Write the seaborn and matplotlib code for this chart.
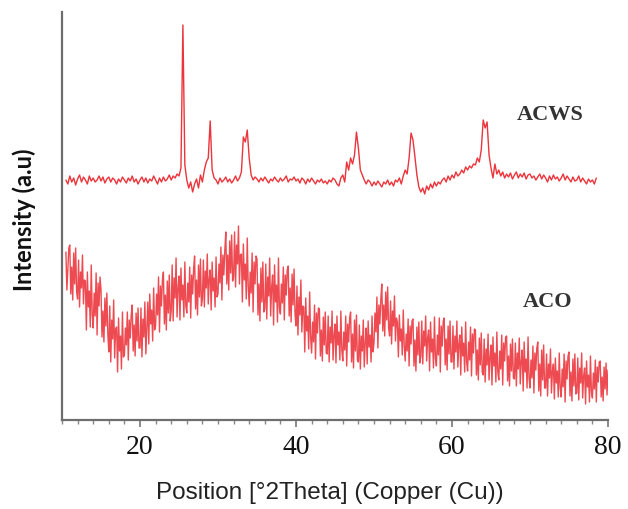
import numpy as np
import pandas as pd
import matplotlib
matplotlib.use("Agg")
import matplotlib.pyplot as plt
import seaborn as sns
from matplotlib.ticker import MultipleLocator

# ---- data (arbitrary intensity units, 2theta scan in degrees) ----
acws_step = 0.25
acws_start = 10.5
aco_step = 0.125
aco_start = 10.5

acws_intensity = [
    240, 236,
    244, 238, 242, 235,
    241, 245, 238, 243,
    240, 236, 244, 239,
    242, 238, 240, 244,
    239, 243, 237, 241,
    243, 238, 242, 240,
    236, 241, 238, 243,
    240, 237, 242, 239,
    244, 238, 241, 236,
    240, 243, 238, 242,
    237, 241, 239, 244,
    240, 236, 242, 238,
    243, 239, 241, 245,
    240, 244, 242, 246,
    244, 252, 395, 255,
    240, 232, 238, 228,
    236, 241, 232, 245,
    238, 250, 258, 262,
    299, 250, 242, 240,
    236, 242, 238, 240,
    243, 238, 241, 237,
    240, 244, 239, 242,
    248, 283, 278, 290,
    262, 245, 240, 243,
    241, 238, 242, 239,
    243, 240, 237, 241,
    239, 243, 240, 238,
    242, 239, 241, 244,
    238, 241, 240, 243,
    239, 241, 237, 242,
    240, 236, 241, 238,
    242, 239, 236, 240,
    238, 241, 237, 239,
    236, 240, 238, 242,
    240, 236, 234, 242,
    245, 238, 258, 250,
    262, 256, 265, 288,
    272, 250, 245, 240,
    236, 240, 238, 234,
    238, 235, 239, 236,
    233, 238, 236, 240,
    235, 238, 234, 240,
    238, 242, 236, 244,
    250, 246, 262, 287,
    280, 263, 245, 233,
    228, 232, 226, 234,
    230, 236, 232, 238,
    234, 238, 236, 240,
    242, 238, 244, 240,
    245, 242, 248, 244,
    246, 250, 247, 253,
    250, 254, 252, 256,
    255, 262, 258, 270,
    300, 292, 298, 265,
    252, 242, 256, 246,
    250, 244, 248, 242,
    246, 243, 247, 241,
    245, 248, 242, 246,
    243, 247, 241, 245,
    246, 242, 244, 240,
    243, 246, 241, 245,
    242, 238, 244, 240,
    245, 241, 243, 239,
    242, 246, 240, 244,
    241, 238, 243, 239,
    240, 244, 238, 242,
    239, 236, 241, 238,
    240, 236, 242,
]

aco_intensity = [
    168, 130, 150, 172,
    175, 126, 153, 120, 167, 136, 172, 128,
    121, 160, 113, 148, 132, 165, 116, 140,
    139, 90, 148, 113, 129, 93, 155, 106,
    92, 127, 104, 147, 85, 137, 114, 143,
    130, 83, 109, 78, 122, 94, 127, 86,
    68, 114, 58, 100, 81, 120, 62, 91,
    93, 48, 102, 69, 84, 51, 108, 63,
    65, 92, 75, 108, 60, 100, 82, 105,
    115, 69, 95, 64, 107, 79, 112, 72,
    72, 112, 63, 101, 83, 118, 66, 92,
    118, 76, 126, 96, 110, 79, 132, 90,
    94, 126, 105, 143, 88, 134, 114, 140,
    148, 96, 125, 90, 139, 107, 145, 99,
    109, 155, 99, 142, 122, 162, 103, 132,
    144, 100, 152, 120, 135, 103, 158, 114,
    107, 137, 118, 153, 102, 145, 126, 151,
    164, 111, 140, 105, 155, 123, 161, 114,
    121, 160, 113, 149, 132, 166, 116, 141,
    150, 110, 158, 129, 142, 113, 163, 123,
    126, 156, 137, 173, 120, 165, 145, 170,
    188, 136, 165, 130, 179, 147, 185, 139,
    143, 188, 133, 175, 156, 194, 136, 165,
    166, 118, 176, 140, 156, 121, 182, 134,
    114, 148, 127, 167, 108, 158, 136, 164,
    161, 105, 136, 99, 152, 118, 158, 108,
    111, 156, 101, 143, 124, 162, 104, 133,
    145, 95, 155, 118, 135, 98, 162, 112,
    106, 136, 117, 153, 100, 145, 125, 150,
    154, 104, 132, 98, 146, 115, 151, 106,
    94, 134, 85, 123, 105, 140, 88, 114,
    113, 68, 122, 89, 104, 71, 128, 83,
    67, 98, 78, 115, 61, 107, 87, 112,
    111, 64, 90, 59, 103, 75, 108, 67,
    66, 104, 58, 93, 77, 109, 60, 85,
    96, 57, 104, 75, 88, 60, 109, 70,
    59, 88, 70, 104, 54, 96, 78, 102,
    108, 58, 86, 52, 100, 69, 105, 60,
    58, 95, 51, 84, 69, 100, 53, 77,
    92, 56, 99, 73, 85, 58, 104, 68,
    77, 107, 88, 123, 72, 115, 96, 121,
    136, 89, 115, 84, 128, 100, 133, 92,
    84, 119, 76, 109, 94, 124, 79, 102,
    98, 63, 105, 79, 91, 65, 110, 75,
    59, 86, 69, 101, 54, 94, 76, 99,
    101, 54, 80, 49, 93, 65, 98, 57,
    64, 99, 56, 89, 74, 104, 59, 82,
    90, 49, 98, 68, 81, 52, 103, 62,
    54, 85, 65, 102, 48, 94, 74, 99,
    102, 55, 81, 50, 94, 66, 99, 58,
    58, 94, 51, 84, 68, 99, 53, 76,
    85, 45, 93, 64, 77, 48, 98, 58,
    49, 78, 60, 93, 44, 86, 67, 91,
    90, 45, 70, 40, 82, 55, 87, 48,
    45, 81, 38, 71, 55, 86, 40, 63,
    75, 35, 83, 54, 67, 38, 88, 48,
    40, 69, 51, 85, 35, 77, 59, 83,
    84, 39, 64, 34, 76, 49, 81, 42,
    41, 77, 34, 67, 51, 82, 36, 59,
    70, 29, 78, 48, 61, 32, 83, 42,
    32, 60, 42, 74, 27, 67, 50, 72,
    78, 29, 56, 24, 70, 40, 75, 32,
    32, 66, 24, 56, 42, 71, 27, 49,
    56, 21, 62, 37, 49, 23, 67, 32,
    23, 51, 33, 66, 18, 59, 41, 64,
    68, 24, 48, 19, 61, 34, 66, 26,
    27, 62, 20, 52, 37, 67, 22, 44,
    52, 16, 59, 33, 45, 18, 64, 28,
    22, 47, 31, 60, 18, 53, 38, 58,
    59, 23, 43, 19, 53, 31, 57, 25,
    50,
]

series_labels = ["ACWS", "ACO"]
x_ticks = [20, 40, 60, 80]
x_label = "Position [°2Theta] (Copper (Cu))"
y_label = "Intensity (a.u)"

acws_theta = acws_start + acws_step * np.arange(len(acws_intensity))
aco_theta = aco_start + aco_step * np.arange(len(aco_intensity))

df = pd.concat([
    pd.DataFrame({"theta": acws_theta, "intensity": acws_intensity, "sample": "ACWS"}),
    pd.DataFrame({"theta": aco_theta, "intensity": aco_intensity, "sample": "ACO"}),
], ignore_index=True)

sns.set_theme(style="white")
fig = plt.figure(figsize=(6.28, 5.09), dpi=100)
ax = fig.add_axes([62 / 628, 89 / 509, 546 / 628, 408 / 509])

red = "#e91e25"
sns.lineplot(data=df[df["sample"] == "ACO"], x="theta", y="intensity",
             color=red, linewidth=1.0, estimator=None, ax=ax, alpha=0.8)
sns.lineplot(data=df[df["sample"] == "ACWS"], x="theta", y="intensity",
             color=red, linewidth=1.0, estimator=None, ax=ax, alpha=0.9)

ax.set_xlim(10, 80)
ax.set_ylim(0, 408)
ax.set_xticks(x_ticks)
ax.xaxis.set_minor_locator(MultipleLocator(2))
ax.set_yticks([])
ax.tick_params(axis="x", which="major", direction="out", length=5, width=1.2,
               color="#777777", bottom=True, pad=6)
ax.tick_params(axis="x", which="minor", direction="out", length=3, width=1,
               color="#888888", bottom=True)
for lab in ax.get_xticklabels():
    lab.set_fontfamily("Liberation Serif")
    lab.set_fontsize(20)
    lab.set_color("#111111")

for s in ["top", "right"]:
    ax.spines[s].set_visible(False)
for s in ["left", "bottom"]:
    ax.spines[s].set_color("#6e6e6e")
    ax.spines[s].set_linewidth(1.6)

ax.set_xlabel(x_label, fontfamily="Liberation Sans", fontsize=17.5, color="#222222")
ax.xaxis.set_label_coords(0.491, -0.152)
ax.set_ylabel(y_label, fontfamily="Lato", fontweight="bold", fontsize=17, color="#111111")
ax.yaxis.set_label_coords(-0.047, 0.49)

ax.text(72.6, 305, series_labels[0], fontfamily="Liberation Serif", fontweight="bold",
        fontsize=16, color="#333333", ha="center", va="center")
ax.text(72.3, 118, series_labels[1], fontfamily="Liberation Serif", fontweight="bold",
        fontsize=16, color="#333333", ha="center", va="center")

fig.savefig("out.png", dpi=100)
